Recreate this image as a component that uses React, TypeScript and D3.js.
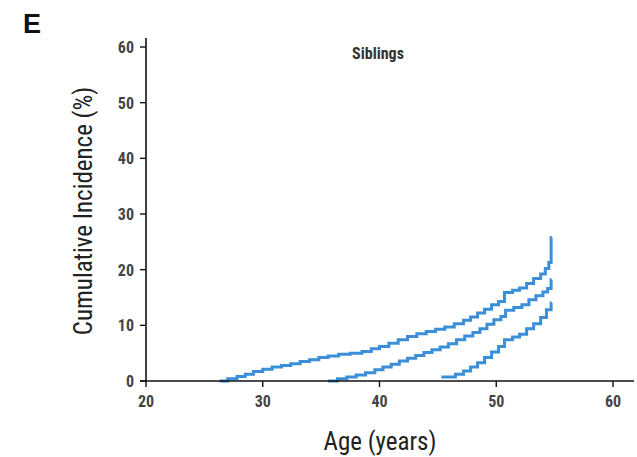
import React from "react";
import * as d3 from "d3";

const xTicks = [20, 30, 40, 50, 60];
const yTicks = [0, 10, 20, 30, 40, 50, 60];

const upperAges = [26.3, 27, 27.8, 28.5, 29.2, 30, 30.8, 31.6, 32.4, 33.2, 34, 34.8, 35.6, 36.5, 37.5, 38.5, 39.3, 40, 40.8, 41.6, 42.4, 43.2, 44, 44.8, 45.6, 46.4, 47.2, 47.8, 48.4, 49, 49.6, 50.2, 50.7, 51.4, 52, 52.6, 53.2, 53.8, 54.2, 54.5, 54.7, 54.75];
const upperVals = [0, 0.4, 0.8, 1.2, 1.7, 2.1, 2.5, 2.8, 3.1, 3.5, 3.8, 4.2, 4.5, 4.8, 5.0, 5.3, 5.8, 6.2, 6.8, 7.4, 8.0, 8.5, 8.9, 9.3, 9.7, 10.3, 10.9, 11.5, 12.2, 12.9, 13.7, 14.3, 15.9, 16.3, 16.7, 17.5, 18.4, 19.2, 20.2, 21.3, 25.8, 25.8];

const estAges = [35.6, 36.4, 37.2, 38, 38.8, 39.6, 40.3, 41, 41.7, 42.4, 43.1, 43.8, 44.5, 45.2, 45.9, 46.6, 47.3, 48, 48.6, 49.2, 49.8, 50.4, 50.8, 51.5, 52.2, 52.8, 53.4, 54, 54.4, 54.7, 54.75];
const estVals = [0, 0.4, 0.7, 1.1, 1.5, 2.0, 2.5, 3.0, 3.6, 4.1, 4.6, 5.1, 5.6, 6.1, 6.7, 7.4, 8.1, 8.7, 9.4, 10.2, 11.0, 11.6, 12.7, 13.2, 13.7, 14.6, 15.3, 16.0, 16.6, 18.2, 18.2];

const lowerAges = [45.3, 46.5, 47.2, 47.8, 48.4, 49, 49.6, 50.2, 50.7, 51.4, 52, 52.6, 53.2, 53.8, 54.3, 54.7, 54.75];
const lowerVals = [0.7, 1.2, 1.8, 2.5, 3.3, 4.2, 5.2, 6.2, 7.4, 7.9, 8.4, 9.4, 10.3, 11.4, 12.8, 14.0, 14.0];

const series = [
  { ages: upperAges, vals: upperVals },
  { ages: estAges, vals: estVals },
  { ages: lowerAges, vals: lowerVals },
];

const FONT = "'Liberation Sans Narrow', 'Roboto Condensed', 'Liberation Sans', Arial, sans-serif";

export default function App() {
  const W = 637, H = 457;
  const x = d3.scaleLinear().domain([20, 60]).range([146, 613]);
  const y = d3.scaleLinear().domain([0, 60]).range([381, 47]);
  const line = d3.line<[number, number]>().x(d => x(d[0])).y(d => y(d[1])).curve(d3.curveStepAfter);

  return (
    <svg width={W} height={H} style={{ position: "absolute", left: 0, top: 0, background: "#fff" }}>
      <text x={23} y={33} fontFamily="'Liberation Sans', Arial, sans-serif" fontWeight="bold" fontSize={27} fill="#111">E</text>
      <text x={378} y={59} textAnchor="middle" fontFamily={FONT} fontWeight="bold" fontSize={16} fill="#333">Siblings</text>

      {series.map((s, i) => (
        <path key={i} d={line(s.ages.map((a, j) => [a, s.vals[j]] as [number, number])) || ""}
          fill="none" stroke="#3b8fd8" strokeWidth={3} strokeLinejoin="miter" />
      ))}

      {/* axes */}
      <line x1={146} x2={146} y1={38} y2={382} stroke="#111" strokeWidth={1.6} />
      <line x1={140} x2={634} y1={381} y2={381} stroke="#111" strokeWidth={1.6} />
      {yTicks.map(t => (
        <g key={"y" + t}>
          <line x1={140} x2={146} y1={y(t)} y2={y(t)} stroke="#111" strokeWidth={1.4} />
          <text x={134} y={y(t) + 6} textAnchor="end" fontFamily={FONT} fontWeight="bold" fontSize={16} fill="#444">{t}</text>
        </g>
      ))}
      {xTicks.map(t => (
        <g key={"x" + t}>
          <line x1={x(t)} x2={x(t)} y1={381} y2={387} stroke="#111" strokeWidth={1.4} />
          <text x={x(t)} y={407} textAnchor="middle" fontFamily={FONT} fontWeight="bold" fontSize={16} fill="#444">{t}</text>
        </g>
      ))}
      <text x={380} y={450} textAnchor="middle" fontFamily={FONT} fontSize={25} fill="#222">Age (years)</text>
      <text transform="translate(92,211) rotate(-90)" textAnchor="middle" fontFamily={FONT} fontSize={25} fill="#222">Cumulative Incidence (%)</text>
    </svg>
  );
}
